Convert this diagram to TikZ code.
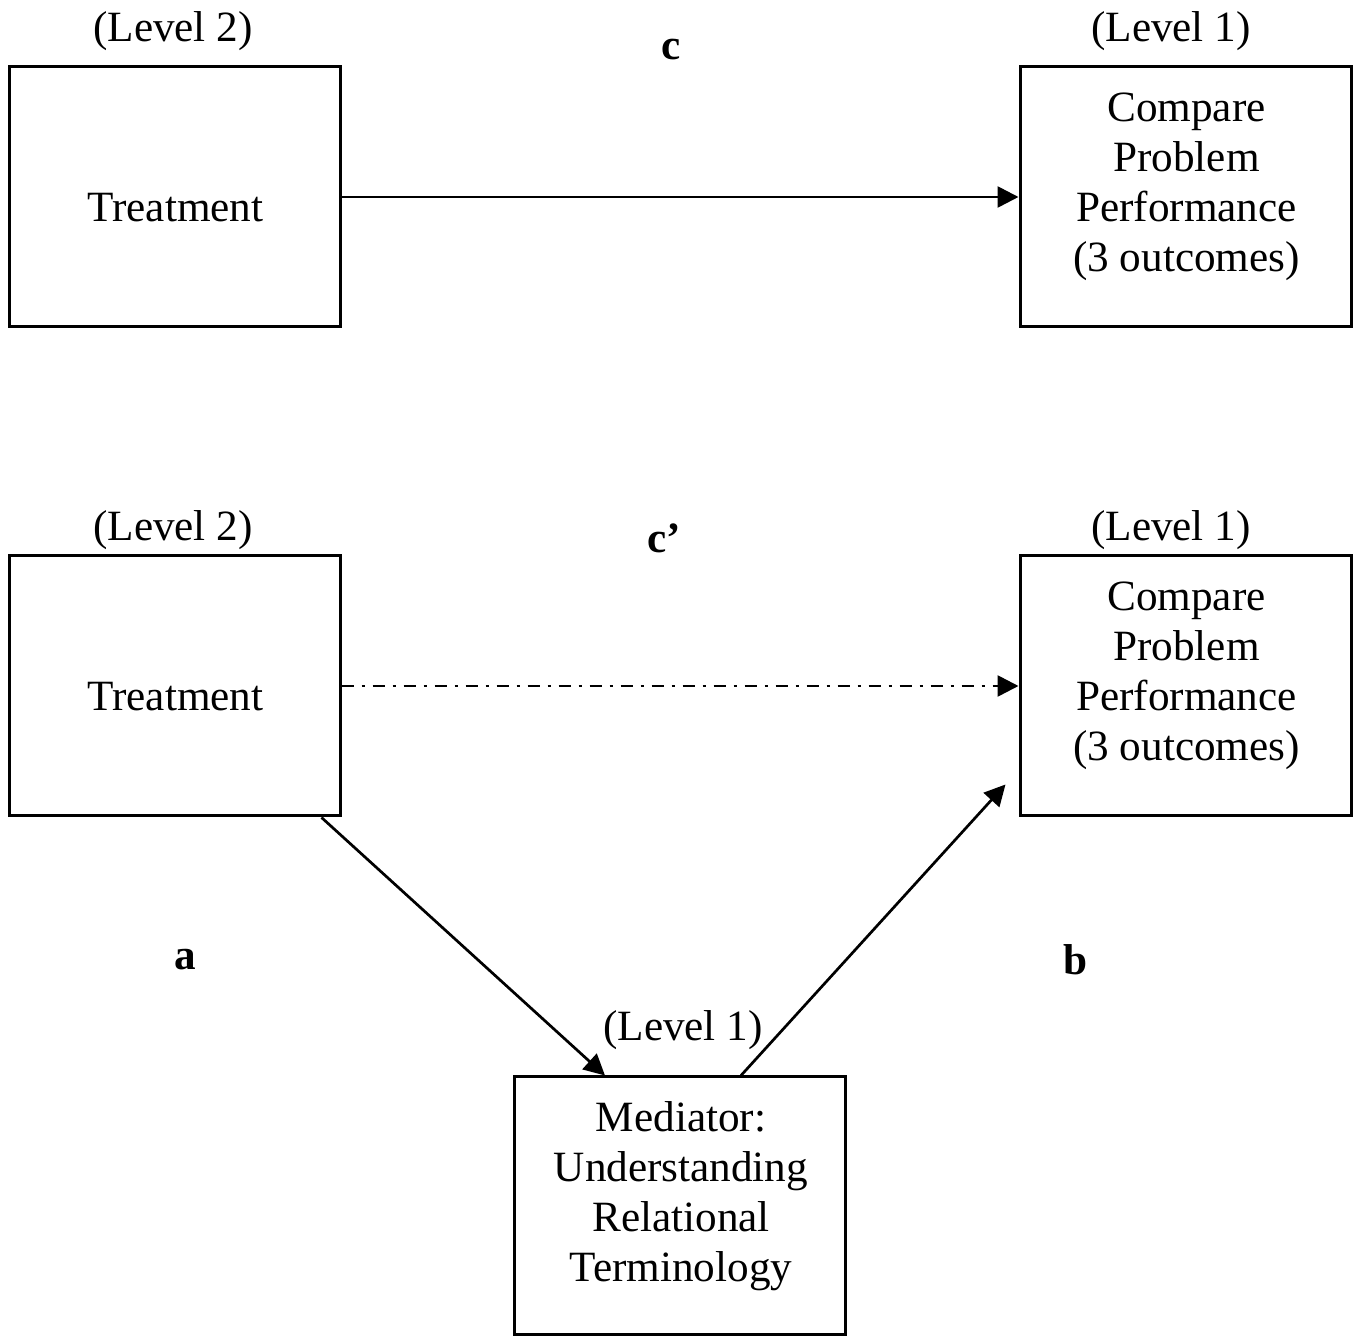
\documentclass[tikz,border=0pt]{standalone}
\usepackage{fontspec}
\setmainfont{Liberation Serif}
\usetikzlibrary{arrows.meta,calc}
\tikzset{
  box/.style={draw=drawColor,line width=1.5pt,minimum width=165.5pt,minimum height=130pt,inner sep=0pt},
  boxtext/.style={text=drawColor,align=center,inner sep=0pt,font=\fontsize{21.6}{25}\selectfont},
  level/.style={text=drawColor,anchor=base,inner sep=0pt,font=\fontsize{21.6}{25}\selectfont},
  path/.style={text=drawColor,anchor=base,inner sep=0pt,font=\fontsize{21.6}{25}\selectfont\bfseries},
  link/.style={draw=drawColor,line width=1.35pt,-{Triangle[length=10.5pt,width=10.5pt]}},
  indirect/.style={link,dash pattern=on 6pt off 4pt on 1.5pt off 4pt}
}
\begin{document}
\begin{tikzpicture}[x=0.5pt,y=-0.5pt]
\definecolor{drawColor}{RGB}{0,0,0}
\definecolor{fillColor}{RGB}{255,255,255}
\path[use as bounding box,fill=fillColor] (0,0) rectangle (1357,1336);

% total effect
\node[box] (treat1) at ( 174.5, 197.0) {};
\node[box] (perf1) at (1185.5, 197.0) {};
\node[boxtext] (treat1text) at ( 175.5, 208.0) {Treatment};
\node[boxtext] (perf1text) at (1186.5, 187.0) {Compare\\Problem\\Performance\\(3 outcomes)};
\node[level] (lev1a) at ( 173.0, 42.0) {(Level 2)};
\node[level] (lev1b) at (1171.0, 42.0) {(Level 1)};
\node[path] (pc) at ( 671.0, 60.0) {c};
\path[link] (treat1.east) -- (perf1.west);

% mediated effect
\node[box] (treat2) at ( 174.5, 686.0) {};
\node[box] (perf2) at (1185.5, 686.0) {};
\node[box,minimum height=129pt] (med) at ( 680.0,1206.0) {};
\node[boxtext] (treat2text) at ( 175.5, 697.0) {Treatment};
\node[boxtext] (perf2text) at (1186.5, 676.0) {Compare\\Problem\\Performance\\(3 outcomes)};
\node[boxtext] (medtext) at ( 681.0,1196.0) {Mediator:\\Understanding\\Relational\\Terminology};
\node[level] (lev2a) at ( 173.0, 541.0) {(Level 2)};
\node[level] (lev2b) at (1171.0, 541.0) {(Level 1)};
\node[level] (lev3) at ( 683.0,1041.0) {(Level 1)};
\node[path] (pcp) at ( 664.0, 553.0) {c’};
\node[path] (pa) at ( 185.0, 970.0) {a};
\node[path] (pb) at (1076.0, 975.0) {b};
\path[indirect] (treat2.east) -- (perf2.west);
\path[link] ($(treat2.south east)+(-20,0)$) -- ($(med.north west)+(92,0)$);
\path[link] ($(med.north west)+(228,0)$) -- ($(perf2.south west)+(-13,-33)$);
\end{tikzpicture}
\end{document}
